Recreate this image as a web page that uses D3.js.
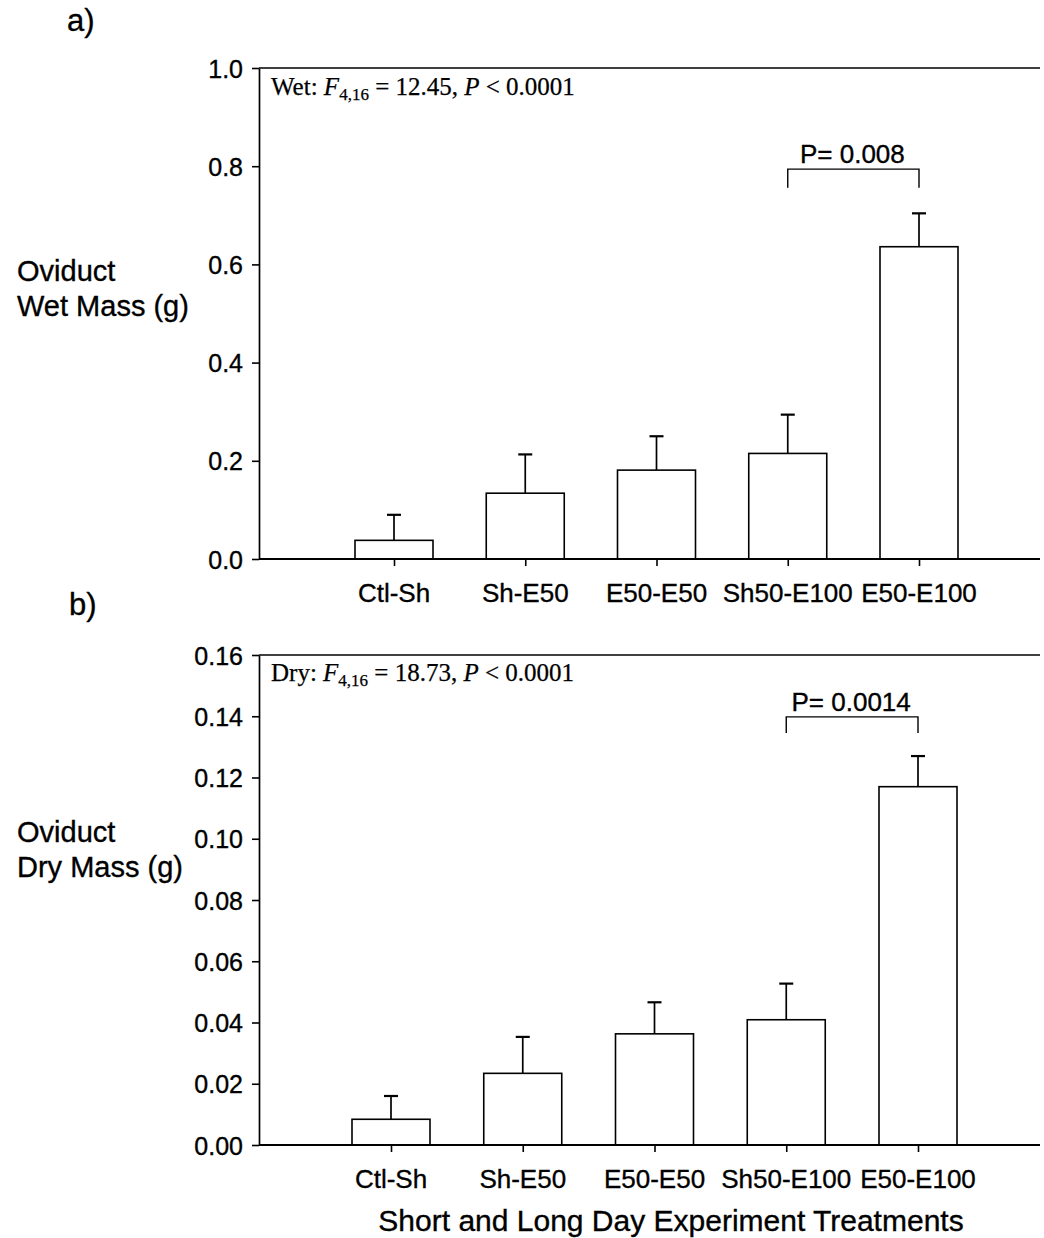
<!DOCTYPE html>
<html>
<head>
<meta charset="utf-8">
<script src="https://cdn.jsdelivr.net/npm/d3@7"></script>
<style>
  html, body { margin: 0; padding: 0; background: #fff; }
  svg { display: block; }
  .sans { font-family: "Liberation Sans", Arial, Helvetica, sans-serif; fill: #000; stroke: #000; stroke-width: 0.35px; }
  .serif { font-family: "Liberation Serif", "Times New Roman", serif; fill: #000; stroke: #000; stroke-width: 0.25px; }
</style>
</head>
<body>
<svg id="chart" width="1044" height="1238"></svg>
<script>
// Treatment groups (shared by both panels)
const categories = ["Ctl-Sh", "Sh-E50", "E50-E50", "Sh50-E100", "E50-E100"];

// Panel a: oviduct wet mass (g), means and standard errors
const wetMeans = [0.038, 0.134, 0.181, 0.215, 0.636];
const wetErrors = [0.052, 0.079, 0.069, 0.079, 0.068];
const wetTicks = [0.0, 0.2, 0.4, 0.6, 0.8, 1.0];

// Panel b: oviduct dry mass (g), means and standard errors
const dryMeans = [0.0084, 0.0234, 0.0363, 0.0409, 0.1170];
const dryErrors = [0.0076, 0.0119, 0.0103, 0.0118, 0.0100];
const dryTicks = [0.00, 0.02, 0.04, 0.06, 0.08, 0.10, 0.12, 0.14, 0.16];

// Pairwise comparison shown above the bars of each panel
const wetComparison = { from: "Sh50-E100", to: "E50-E100", label: "P= 0.008", level: 0.794, leg: 0.756 };
const dryComparison = { from: "Sh50-E100", to: "E50-E100", label: "P= 0.0014", level: 0.1398, leg: 0.1345 };

const svg = d3.select("#chart");

function drawPanel(cfg) {
  const g = svg.append("g");
  const y = d3.scaleLinear().domain(cfg.domain).range([cfg.bottom, cfg.top]);
  const x = d3.scalePoint().domain(categories).range(cfg.xRange);
  const barW = 78;
  const xLeft = cfg.left, xRight = 1040;

  // Frame: top line across the full width
  g.append("line").attr("x1", xLeft).attr("x2", xRight)
    .attr("y1", cfg.top).attr("y2", cfg.top)
    .attr("stroke", "#000").attr("stroke-width", 1.7);

  // Bars
  const data = categories.map((c, i) => ({ c, m: cfg.means[i], e: cfg.errors[i] }));
  g.selectAll("rect.bar").data(data).enter().append("rect")
    .attr("class", "bar")
    .attr("x", d => x(d.c) - barW / 2)
    .attr("width", barW)
    .attr("y", d => y(d.m))
    .attr("height", d => y(0) - y(d.m))
    .attr("fill", "#fff").attr("stroke", "#000").attr("stroke-width", 1.6);

  // Upper error bars
  g.selectAll("line.err").data(data).enter().append("line")
    .attr("class", "err")
    .attr("x1", d => x(d.c)).attr("x2", d => x(d.c))
    .attr("y1", d => y(d.m)).attr("y2", d => y(d.m + d.e))
    .attr("stroke", "#000").attr("stroke-width", 1.7);
  g.selectAll("line.cap").data(data).enter().append("line")
    .attr("class", "cap")
    .attr("x1", d => x(d.c) - 7).attr("x2", d => x(d.c) + 7)
    .attr("y1", d => y(d.m + d.e)).attr("y2", d => y(d.m + d.e))
    .attr("stroke", "#000").attr("stroke-width", 2.2);

  // Y axis
  const yAxis = d3.axisLeft(y).tickValues(cfg.ticks)
    .tickFormat(d3.format(cfg.fmt)).tickSize(7).tickPadding(9).tickSizeOuter(0);
  const ya = g.append("g").attr("transform", `translate(${xLeft},0)`).call(yAxis);
  ya.select(".domain").attr("stroke-width", 1.7);
  ya.selectAll(".tick line").attr("stroke-width", 1.6);
  ya.selectAll(".tick text").attr("class", "sans").style("font-size", "25px")
    .attr("font-family", null).attr("dy", "0.36em");

  // X axis baseline with category ticks
  g.append("line").attr("x1", xLeft).attr("x2", xRight)
    .attr("y1", cfg.bottom).attr("y2", cfg.bottom)
    .attr("stroke", "#000").attr("stroke-width", 2);
  const xAxis = d3.axisBottom(x).tickSize(7).tickPadding(0).tickFormat("");
  const xa = g.append("g").attr("transform", `translate(0,${cfg.bottom})`).call(xAxis);
  xa.select(".domain").remove();
  xa.selectAll(".tick line").attr("stroke-width", 1.6);
  g.selectAll("text.cat").data(categories).enter().append("text")
    .attr("class", "sans cat")
    .attr("x", d => x(d)).attr("y", cfg.bottom + 43)
    .attr("text-anchor", "middle").style("font-size", "26px")
    .text(d => d);

  // Comparison bracket
  const cmp = cfg.comparison;
  const bx1 = x(cmp.from), bx2 = x(cmp.to);
  g.append("path")
    .attr("d", `M${bx1},${y(cmp.leg)}V${y(cmp.level)}H${bx2}V${y(cmp.leg)}`)
    .attr("fill", "none").attr("stroke", "#000").attr("stroke-width", 1.4);
  g.append("text").attr("class", "sans")
    .attr("x", (bx1 + bx2) / 2 - 1).attr("y", y(cmp.level) - 6)
    .attr("text-anchor", "middle").style("font-size", "26px")
    .text(cmp.label);

  // ANOVA summary in the upper left corner
  const st = g.append("text").attr("class", "serif")
    .attr("x", xLeft + 12).attr("y", cfg.top + cfg.statDy).style("font-size", "25px");
  st.append("tspan").text(cfg.statPrefix + " ");
  st.append("tspan").attr("font-style", "italic").text("F");
  st.append("tspan").style("font-size", "17px").attr("dy", 5).text("4,16");
  st.append("tspan").attr("dy", -5).text(" = " + cfg.fValue + ", ");
  st.append("tspan").attr("font-style", "italic").text("P");
  st.append("tspan").text(" < 0.0001");

  // Panel letter
  g.append("text").attr("class", "sans").attr("x", cfg.letterX).attr("y", cfg.letterY)
    .style("font-size", "31px").text(cfg.letter);

  // Y axis title (two lines)
  const yt = g.append("text").attr("class", "sans").attr("x", 17).attr("y", cfg.titleY)
    .style("font-size", "29px");
  yt.append("tspan").attr("x", 17).text("Oviduct");
  yt.append("tspan").attr("x", 17).attr("dy", 35).text(cfg.titleLine2);
}

drawPanel({
  domain: [0, 1.0], top: 68, bottom: 559, left: 259, xRange: [394, 919],
  means: wetMeans, errors: wetErrors, ticks: wetTicks, fmt: ".1f",
  comparison: wetComparison, statPrefix: "Wet:", fValue: "12.45", statDy: 27,
  letter: "a)", letterX: 67, letterY: 31,
  titleY: 281, titleLine2: "Wet Mass (g)"
});

drawPanel({
  domain: [0, 0.16], top: 655, bottom: 1145, left: 259, xRange: [391, 918],
  means: dryMeans, errors: dryErrors, ticks: dryTicks, fmt: ".2f",
  comparison: dryComparison, statPrefix: "Dry:", fValue: "18.73", statDy: 26,
  letter: "b)", letterX: 69, letterY: 615,
  titleY: 842, titleLine2: "Dry Mass (g)"
});

// Shared x axis title
svg.append("text").attr("class", "sans")
  .attr("x", 671).attr("y", 1231).attr("text-anchor", "middle")
  .style("font-size", "30px")
  .text("Short and Long Day Experiment Treatments");
</script>
</body>
</html>
